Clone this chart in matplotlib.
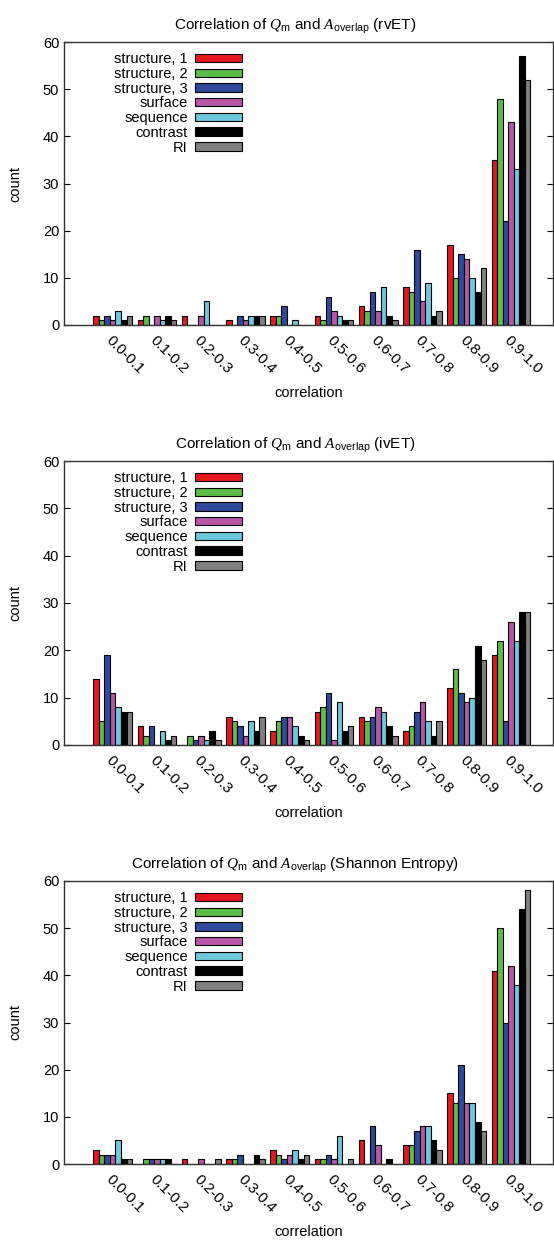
import numpy as np
import matplotlib
matplotlib.use('Agg')
import matplotlib.pyplot as plt

plt.rcParams['font.family'] = ['Liberation Sans', 'DejaVu Sans']
plt.rcParams['mathtext.fontset'] = 'custom'
plt.rcParams['mathtext.rm'] = 'Liberation Sans'
plt.rcParams['mathtext.sf'] = 'Liberation Sans'
plt.rcParams['mathtext.it'] = 'Liberation Serif:italic'

# bins on the x axis
bins = ['0.0-0.1', '0.1-0.2', '0.2-0.3', '0.3-0.4', '0.4-0.5',
        '0.5-0.6', '0.6-0.7', '0.7-0.8', '0.8-0.9', '0.9-1.0']
series = ['structure, 1', 'structure, 2', 'structure, 3', 'surface',
          'sequence', 'contrast', 'RI']
colors = ['#e5181f', '#5dbd48', '#2f4a9c', '#b955a8', '#6cc9dc', '#000000', '#7f7f7f']

# counts per bin, one list per series (rvET)
rv_struct1 = [2, 1, 2, 1, 2, 2, 4, 8, 17, 35]
rv_struct2 = [1, 2, 0, 0, 2, 1, 3, 7, 10, 48]
rv_struct3 = [2, 0, 0, 2, 4, 6, 7, 16, 15, 22]
rv_surface = [1, 2, 2, 1, 0, 3, 3, 5, 14, 43]
rv_sequence = [3, 1, 5, 2, 1, 2, 8, 9, 10, 33]
rv_contrast = [1, 2, 0, 2, 0, 1, 2, 2, 7, 57]
rv_ri = [2, 1, 0, 2, 0, 1, 1, 3, 12, 52]

# ivET
iv_struct1 = [14, 4, 0, 6, 3, 7, 6, 3, 12, 19]
iv_struct2 = [5, 2, 2, 5, 5, 8, 5, 4, 16, 22]
iv_struct3 = [19, 4, 1, 4, 6, 11, 6, 7, 11, 5]
iv_surface = [11, 0, 2, 2, 6, 1, 8, 9, 9, 26]
iv_sequence = [8, 3, 1, 5, 4, 9, 7, 5, 10, 22]
iv_contrast = [7, 1, 3, 3, 2, 3, 4, 2, 21, 28]
iv_ri = [7, 2, 1, 6, 1, 4, 2, 5, 18, 28]

# Shannon entropy
sh_struct1 = [3, 0, 1, 1, 3, 1, 5, 4, 15, 41]
sh_struct2 = [2, 1, 0, 1, 2, 1, 0, 4, 13, 50]
sh_struct3 = [2, 1, 0, 2, 1, 2, 8, 7, 21, 30]
sh_surface = [2, 1, 1, 0, 2, 1, 4, 8, 13, 42]
sh_sequence = [5, 1, 0, 0, 3, 6, 0, 8, 13, 38]
sh_contrast = [1, 1, 0, 2, 1, 0, 1, 5, 9, 54]
sh_ri = [1, 0, 1, 1, 2, 1, 0, 3, 7, 58]

panels = [
    ('rvET', [rv_struct1, rv_struct2, rv_struct3, rv_surface, rv_sequence, rv_contrast, rv_ri]),
    ('ivET', [iv_struct1, iv_struct2, iv_struct3, iv_surface, iv_sequence, iv_contrast, iv_ri]),
    ('Shannon Entropy', [sh_struct1, sh_struct2, sh_struct3, sh_surface, sh_sequence, sh_contrast, sh_ri]),
]

W, H = 554, 1240
fig = plt.figure(figsize=(W / 100, H / 100), dpi=100)

# axes tops/bottoms in pixels
ax_px = [(42, 325), (461, 745), (881, 1164)]
left_px, right_px = 64, 553

x = np.arange(len(bins))
bw = 1.0 / 8

for (name, data), (top, bot) in zip(panels, ax_px):
    ax = fig.add_axes([left_px / W, 1 - bot / H, (right_px - left_px) / W, (bot - top) / H])
    for i, (vals, lab, col) in enumerate(zip(data, series, colors)):
        ax.bar(x + (i - 3) * bw, vals, width=bw, color=col, edgecolor='black',
               linewidth=0.8, label=lab)
    ax.set_xlim(-1.1, 9.95)
    ax.set_ylim(0, 60)
    ax.set_yticks(range(0, 61, 10))
    ax.tick_params(axis='y', direction='in', right=True, length=4, labelsize=10.5)
    ax.set_xticks(x)
    ax.set_xticklabels(bins, rotation=-45, ha='left', va='top',
                       rotation_mode='anchor', fontsize=11)
    ax.tick_params(axis='x', length=0, pad=6)
    for s in ax.spines.values():
        s.set_color('#333333')
        s.set_linewidth(1.0)
    ax.set_title(r'Correlation of $Q_{\mathrm{m}}$ and $A_{\mathrm{overlap}}$ (' + name + ')',
                 fontsize=11, pad=9, x=0.472)
    ax.set_xlabel('correlation', fontsize=10.5)
    ax.xaxis.set_label_coords(0.5, -(386 - 325) / 283)
    ax.set_ylabel('count', fontsize=10.5)
    ax.yaxis.set_label_coords(-(64 - 22) / 489, 0.5)
    ax.legend(loc='upper left', bbox_to_anchor=(0.085, 0.995), frameon=False,
              markerfirst=False, handlelength=3.2, handleheight=0.5,
              labelspacing=0.05, handletextpad=0.5, fontsize=10.5,
              borderaxespad=0.2)

fig.savefig('out.png', dpi=100)
